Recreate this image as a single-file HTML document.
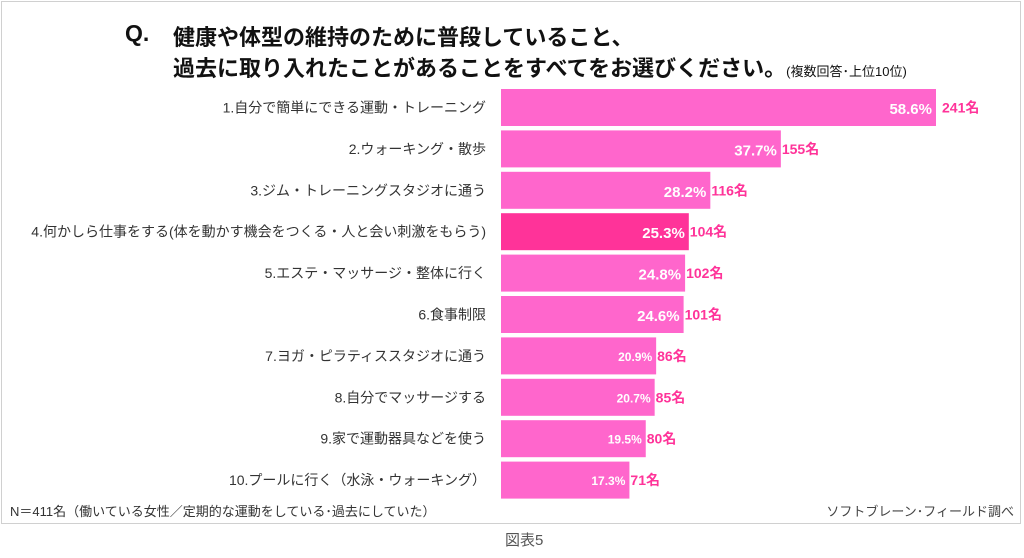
<!DOCTYPE html>
<html><head><meta charset="utf-8"><style>
body{margin:0;width:1024px;height:558px;background:#fff;font-family:"Liberation Sans","Noto Sans CJK JP",sans-serif;position:relative;overflow:hidden}
#frame{position:absolute;left:1px;top:1px;width:1018px;height:521px;border:1px solid #d0d0d0}
.t{position:absolute;white-space:nowrap}
</style></head><body>
<div id="frame"></div>
<div class="t" style="left:125px;top:20px;font-size:23px;font-weight:bold;color:#111">Q.</div>
<div class="t" style="left:173px;top:20px;font-size:22px;font-weight:bold;color:#111">健康や体型の維持のために普段していること、</div>
<div class="t" style="left:173px;top:51px;font-size:22px;font-weight:bold;color:#111">過去に取り入れたことがあることをすべてをお選びください。<span style="font-size:13px;font-weight:normal">(複数回答･上位10位)</span></div>
<svg id="chart" width="1024" height="558" style="position:absolute;left:0;top:0"></svg>
<div class="t" style="left:10px;top:501px;font-size:13px;color:#333">N＝411名（働いている女性／定期的な運動をしている･過去にしていた）</div>
<div class="t" style="right:10px;top:501px;font-size:13px;color:#444">ソフトブレーン･フィールド調べ</div>
<div class="t" style="left:505px;top:529px;font-size:15px;color:#555">図表5</div>
<script>
const categories=["1.自分で簡単にできる運動・トレーニング","2.ウォーキング・散歩","3.ジム・トレーニングスタジオに通う","4.何かしら仕事をする(体を動かす機会をつくる・人と会い刺激をもらう)","5.エステ・マッサージ・整体に行く","6.食事制限","7.ヨガ・ピラティススタジオに通う","8.自分でマッサージする","9.家で運動器具などを使う","10.プール に行く（水泳・ウォーキング）"];
const percents=[58.6,37.7,28.2,25.3,24.8,24.6,20.9,20.7,19.5,17.3];
const counts=[241,155,116,104,102,101,86,85,80,71];
const highlight=[false,false,false,true,false,false,false,false,false,false];
const svg=document.getElementById('chart');
const NS='http://www.w3.org/2000/svg';
const x0=501,pxPer=435/58.6,y0=89,pitch=41.4,bh=37;
function xs(v){return v*pxPer;}
function yb(i){return y0+i*pitch;}
categories.forEach((c,i)=>{
 const y=yb(i),w=xs(percents[i]);
 const r=document.createElementNS(NS,'rect');
 r.setAttribute('x',x0);r.setAttribute('y',y);r.setAttribute('width',w);r.setAttribute('height',bh);
 r.setAttribute('fill',highlight[i]?'#ff3399':'#ff66cc');
 
 
 svg.appendChild(r);
 const l=document.createElementNS(NS,'text');
 l.setAttribute('x',486);l.setAttribute('y',y+bh/2+5);l.setAttribute('text-anchor','end');
 l.setAttribute('font-size','14');l.setAttribute('fill','#333');
 l.textContent=c.replace('プール ','プール');
 
 
 svg.appendChild(l);
 const fs=percents[i]>=24?15:12;
 const p=document.createElementNS(NS,'text');
 p.setAttribute('x',x0+w-4);p.setAttribute('y',y+bh/2+fs/2-1);p.setAttribute('text-anchor','end');
 p.setAttribute('font-size',fs);p.setAttribute('font-weight','bold');p.setAttribute('fill','#fff');
 p.textContent=percents[i].toFixed(1)+'%';
 
 
 svg.appendChild(p);
 const n=document.createElementNS(NS,'text');
 n.setAttribute('x',x0+w+(i==0?6:1));n.setAttribute('y',y+bh/2+5);
 n.setAttribute('font-size','14');n.setAttribute('font-weight','bold');n.setAttribute('fill','#ff3399');
 n.textContent=counts[i]+'名';
 
 
 svg.appendChild(n);
});
</script>
</body></html>
